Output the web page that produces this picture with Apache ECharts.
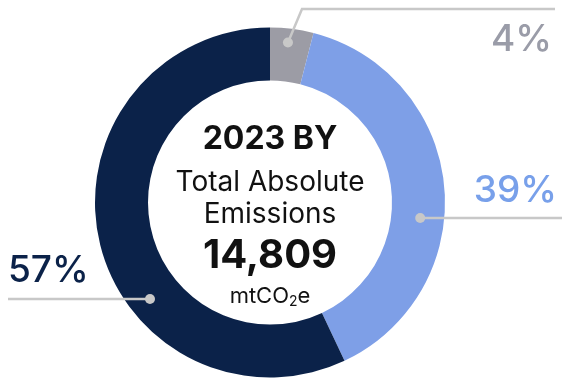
<!DOCTYPE html>
<html>
<head>
<meta charset="utf-8">
<script src="https://cdn.jsdelivr.net/npm/echarts@6/dist/echarts.min.js"></script>
<style>
  html, body { margin: 0; padding: 0; background: #ffffff; }
  #chart { width: 563px; height: 383px; }
</style>
</head>
<body>
<div id="chart"></div>
<script>
// Emission shares (percent of total) and slice colours
const segments = ['Segment A', 'Segment B', 'Segment C'];
const shares = [4, 39, 57];
const sliceColors = ['#9c9ca5', '#7e9fe7', '#0b2249'];
const labelColors = ['#9a9ca8', '#78a0ea', '#0b2249'];

// Centre caption
const captionYear = '2023 BY';
const captionLines = ['Total Absolute', 'Emissions'];
const totalEmissions = 14809;
const unitParts = ['mtCO', '2', 'e'];

const CX = 270, CY = 202.5, R_IN = 122, R_OUT = 175;
const LINE = '#c8c8c8';

// Leader dots: [angle clockwise from 12 o'clock in degrees, radius]
const dotPolar = [[6.4, 161], [95.9, 151], [231.2, 154]];
const dots = dotPolar.map(([a, r]) => {
  const t = a * Math.PI / 180;
  return [CX + r * Math.sin(t), CY - r * Math.cos(t)];
});

// Label placements and leader line routes
const labelSpec = [
  { x: 552, y: 40, align: 'right', line: [dots[0], [302, 9], [555, 9]] },
  { x: 557, y: 191, align: 'right', line: [dots[1], [562, dots[1][1]]] },
  { x: 8, y: 271, align: 'left', line: [dots[2], [8, dots[2][1]]] }
];

const FONT = 'Inter, "Noto Sans", sans-serif';

// Unit line "mtCO2e" with the 2 set as a subscript
const unitFonts = ['400 22px ' + FONT, '400 14px ' + FONT, '400 22px ' + FONT];
const unitDy = [0, 6, 0];
const measureCtx = document.createElement('canvas').getContext('2d');
const unitWidths = unitParts.map((t, i) => { measureCtx.font = unitFonts[i]; return measureCtx.measureText(t).width; });
const unitTotal = unitWidths.reduce((a, b) => a + b, 0);
let unitX = CX - unitTotal / 2;
const unitTexts = unitParts.map((t, i) => {
  const el = {
    type: 'text', x: unitX, y: 296 + unitDy[i],
    style: { text: t, fill: '#111111', align: 'left', verticalAlign: 'middle', font: unitFonts[i] }
  };
  unitX += unitWidths[i];
  return el;
});

const chart = echarts.init(document.getElementById('chart'), null, { renderer: 'canvas' });

chart.setOption({
  animation: false,
  series: [{
    type: 'pie',
    center: [CX, CY],
    radius: [R_IN, R_OUT],
    startAngle: 90,
    clockwise: true,
    avoidLabelOverlap: false,
    silent: true,
    data: segments.map((name, i) => ({
      name,
      value: shares[i],
      itemStyle: { color: sliceColors[i] },
      label: { color: labelColors[i] }
    })),
    label: {
      show: true,
      formatter: '{c}%',
      fontFamily: FONT,
      fontSize: 37,
      fontWeight: 500
    },
    labelLine: { show: false },
    labelLayout: function (params) {
      const s = labelSpec[params.dataIndex];
      return { x: s.x, y: s.y, align: s.align, verticalAlign: 'middle' };
    }
  }],
  graphic: [
    ...labelSpec.map(s => ({
      type: 'polyline',
      shape: { points: s.line },
      style: { stroke: LINE, lineWidth: 2.5, fill: null },
      z: 99
    })),
    ...dots.map(([x, y]) => ({
      type: 'circle',
      shape: { cx: x, cy: y, r: 5 },
      style: { fill: LINE },
      z: 100
    })),
    {
      type: 'text',
      x: CX, y: 139,
      style: {
        text: captionYear, fill: '#111111', align: 'center', verticalAlign: 'middle',
        font: '700 32px ' + FONT
      }
    },
    {
      type: 'text',
      x: CX, y: 183,
      style: {
        text: captionLines[0], fill: '#111111', align: 'center', verticalAlign: 'middle',
        font: '400 28px ' + FONT
      }
    },
    {
      type: 'text',
      x: CX, y: 215,
      style: {
        text: captionLines[1], fill: '#111111', align: 'center', verticalAlign: 'middle',
        font: '400 28px ' + FONT
      }
    },
    {
      type: 'text',
      x: CX, y: 256,
      style: {
        text: totalEmissions.toLocaleString('en-US'), fill: '#111111', align: 'center', verticalAlign: 'middle',
        font: '700 40px ' + FONT
      }
    },
    ...unitTexts
  ]
});
</script>
</body>
</html>
